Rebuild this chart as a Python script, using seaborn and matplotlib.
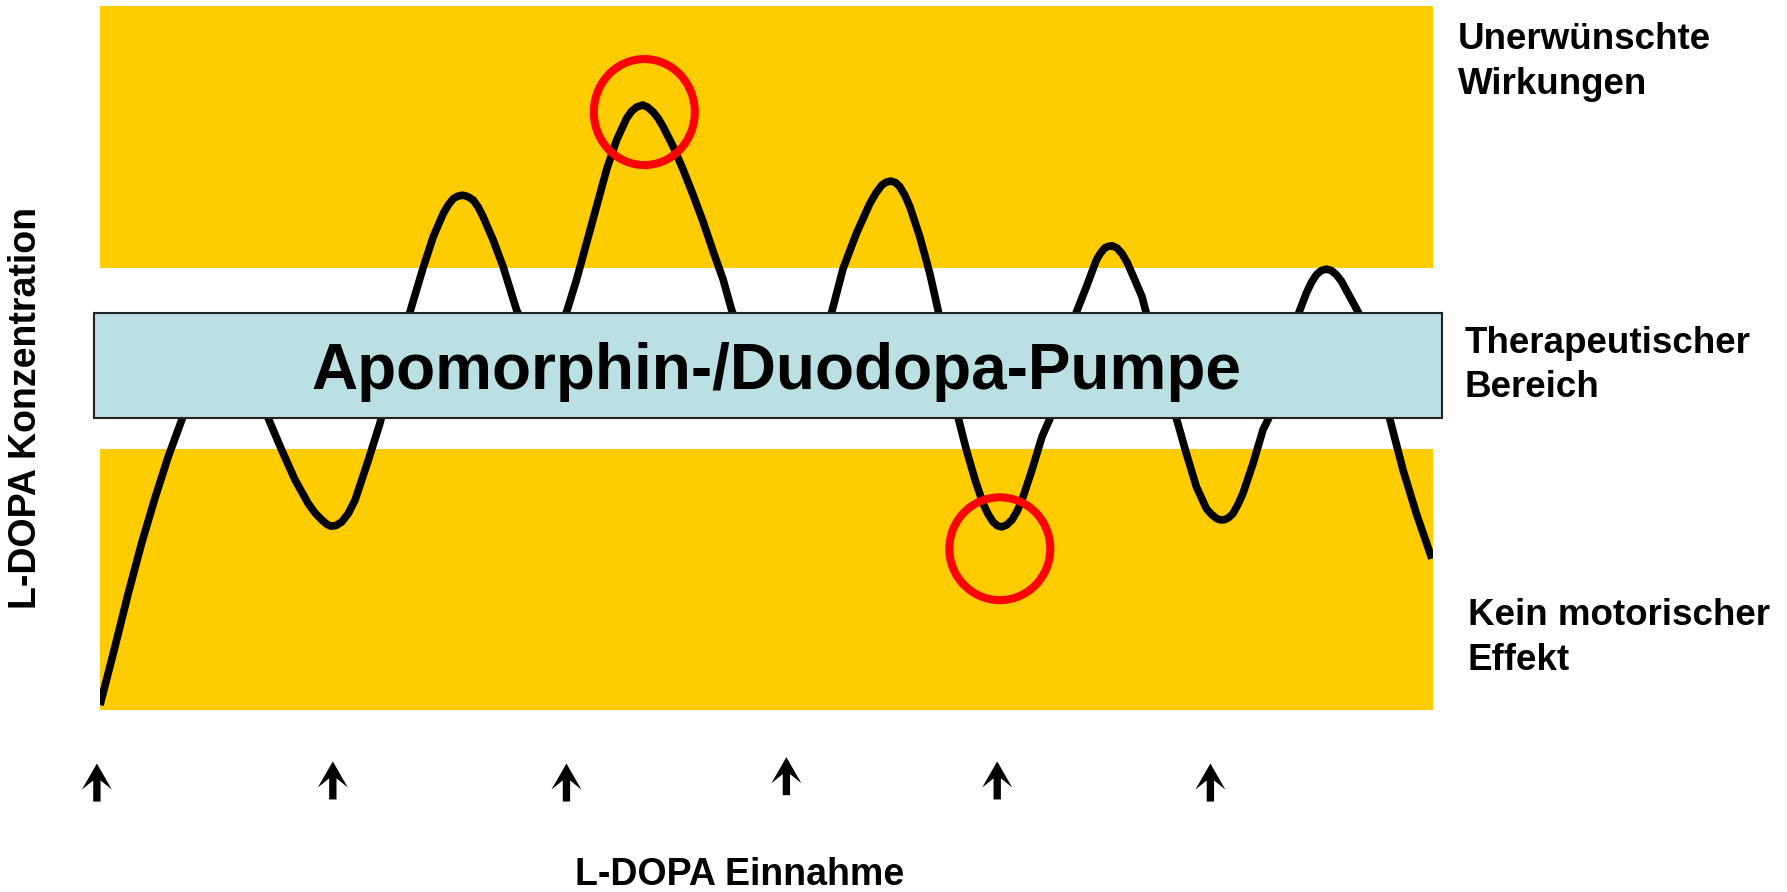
import matplotlib
matplotlib.use("Agg")
import matplotlib.pyplot as plt
from matplotlib.patches import Rectangle, Ellipse
import seaborn as sns
import pandas as pd

# ---------------- data ----------------
# time axis (arbitrary units, 0..12) and L-DOPA concentration (0..100)
time = [0.00, 0.135, 0.255, 0.375, 0.495, 0.615, 0.741, 0.86, 1.00, 1.13, 1.26, 1.40,
        1.515, 1.636, 1.755, 1.875, 1.935, 1.996, 2.04, 2.077, 2.125, 2.176, 2.235, 2.296,
        2.416, 2.52, 2.65, 2.79,
        2.911, 3.00, 3.09, 3.135, 3.18, 3.22, 3.265, 3.31, 3.36, 3.405, 3.45, 3.54, 3.63,
        3.75, 3.86, 3.975, 4.09,
        4.20, 4.29, 4.38, 4.47, 4.56, 4.65, 4.74, 4.785, 4.83, 4.886, 4.93, 4.98, 5.025,
        5.07, 5.16, 5.25,
        5.34, 5.43, 5.52, 5.61, 5.686, 5.85, 6.00, 6.14, 6.28, 6.43, 6.587, 6.69, 6.81,
        6.93, 6.985, 7.037, 7.078, 7.118, 7.16, 7.20, 7.245, 7.29, 7.38, 7.47, 7.547,
        7.64, 7.727, 7.80, 7.877, 7.95, 7.995,
        8.04, 8.08, 8.117, 8.16, 8.21, 8.255, 8.30, 8.39, 8.48, 8.552, 8.67, 8.79, 8.88,
        8.97, 9.008, 9.045, 9.08, 9.113, 9.155,
        9.20, 9.245, 9.29, 9.38, 9.42, 9.555, 9.69, 9.78, 9.87, 9.96, 10.005, 10.05,
        10.085, 10.12, 10.16, 10.20, 10.245, 10.29,
        10.38, 10.47, 10.52, 10.655, 10.79, 10.86, 10.905, 10.95, 10.995, 11.04, 11.085,
        11.13, 11.175, 11.22, 11.33,
        11.47, 11.61, 11.73, 11.85, 11.99]
concentration = [0.7, 9.0, 16.6, 23.7, 30.1, 36.0, 41.4, 46.0, 49.2, 50.2, 49.2, 45.8,
                 41.4, 36.9, 32.7, 29.3, 28.0, 27.0, 26.4, 26.1, 26.2, 26.7, 27.9, 29.8,
                 35.5, 40.7, 48.5, 56.5,
                 62.9, 67.2, 70.5, 71.7, 72.6, 72.95, 73.1, 72.9, 72.4, 71.4, 70.0, 66.7, 62.9,
                 56.8, 53.0, 51.0, 53.0,
                 56.5, 61.1, 66.3, 71.5, 76.7, 80.9, 84.0, 85.0, 85.6, 85.9, 85.6, 84.9, 84.0,
                 82.8, 80.0, 76.7,
                 73.1, 69.3, 65.1, 61.1, 56.8, 50.0, 45.5, 44.0, 45.5, 50.5, 56.5, 62.7, 67.7,
                 71.9, 73.4, 74.5, 74.95, 75.1, 74.9, 74.3, 73.1, 71.5, 67.2, 62.0, 56.6,
                 49.0, 41.4, 36.9, 32.7, 29.3, 27.8,
                 26.7, 26.15, 26.0, 26.25, 27.0, 28.2, 29.8, 34.1, 38.8, 41.4, 49.0, 56.5, 60.1,
                 63.9, 64.9, 65.6, 65.85, 65.9, 65.6,
                 64.8, 63.6, 62.0, 58.7, 56.3, 49.0, 41.4, 36.4, 31.7, 28.6, 27.8, 27.2,
                 27.0, 27.0, 27.3, 27.9, 29.2, 30.8,
                 35.0, 39.8, 41.4, 49.0, 56.3, 59.2, 60.7, 61.8, 62.4, 62.6, 62.4,
                 61.8, 60.9, 59.6, 56.4,
                 49.0, 41.4, 34.1, 27.9, 21.5]

# zones (concentration limits)
zone_low = [0.0, 37.1]          # Kein motorischer Effekt
zone_high = [62.8, 100.0]       # Unerwünschte Wirkungen
pump_band = [41.4, 56.4]        # Apomorphin-/Duodopa-Pumpe box
pump_x = [-0.05, 12.08]

# dose times (L-DOPA Einnahme) with arrow base/tip levels
dose_times = [-0.028, 2.096, 4.199, 6.179, 8.077, 9.996]
dose_base = [-13.0, -12.7, -13.0, -12.1, -12.7, -13.0]
dose_tip = [-7.6, -7.3, -7.6, -6.7, -7.3, -7.6]

# highlighted extremes (red circles)
circle_t = [4.90, 8.10]
circle_c = [84.9, 22.9]
circle_w = [0.909, 0.909]
circle_h = [15.05, 14.6]

ytick_vals = [5.68, 15.91, 26.13, 36.35, 67.02, 77.24, 87.46, 97.69]

pump_label = "Apomorphin-/Duodopa-Pumpe"
right_labels = ["Unerwünschte", "Wirkungen", "Therapeutischer", "Bereich",
                "Kein motorischer", "Effekt"]
right_label_x = [12.225, 12.225, 12.288, 12.288, 12.315, 12.315]
right_label_y = [93.85, 87.46, 50.66, 44.47, 12.1, 5.72]
ylabel = "L-DOPA Konzentration"
xlabel = "L-DOPA Einnahme"

# ---------------- style ----------------
sns.set_style("white")
plt.rcParams['font.family'] = ['Liberation Sans', 'DejaVu Sans']
plt.rcParams['font.weight'] = 'bold'

YELLOW = "#FFCC00"
BLUE = "#BAE0E3"

fig = plt.figure(figsize=(17.87, 8.92), dpi=100)
ax = fig.add_axes([100 / 1787, 182 / 892, 1333 / 1787, 704.3 / 892])
ax.set_xlim(0, 12)
ax.set_ylim(0, 100)

ax.axhspan(zone_low[0], zone_low[1], color=YELLOW, lw=0, zorder=1)
ax.axhspan(zone_high[0], zone_high[1], color=YELLOW, lw=0, zorder=1)

df = pd.DataFrame({"t": time, "c": concentration})
sns.lineplot(data=df, x="t", y="c", ax=ax, color="black", lw=5.5, sort=False,
             estimator=None, zorder=3, solid_capstyle="butt", solid_joinstyle="round")

ax.add_patch(Rectangle((pump_x[0], pump_band[0]), pump_x[1] - pump_x[0],
                       pump_band[1] - pump_band[0], facecolor=BLUE,
                       edgecolor="#222222", lw=1.5, zorder=4, clip_on=False))
ax.text((pump_x[0] + pump_x[1]) / 2 + 0.07, 45.6, pump_label, ha="center", va="baseline",
        fontsize=46, fontweight="bold", color="black", zorder=5)

for t, c, w, h in zip(circle_t, circle_c, circle_w, circle_h):
    ax.add_patch(Ellipse((t, c), w, h, facecolor="none", edgecolor="#FF0000",
                         lw=5.8, zorder=6, clip_on=False))

for t, b, tip in zip(dose_times, dose_base, dose_tip):
    ax.arrow(t, b, 0, tip - b, width=0.066, head_width=0.27, head_length=3.7,
             overhang=0.35, length_includes_head=True, color="black", lw=0,
             clip_on=False, zorder=5)

for s, x, y in zip(right_labels, right_label_x, right_label_y):
    ax.text(x, y, s, ha="left", va="baseline", fontsize=26.5, fontweight="bold",
            color="black", clip_on=False)

ax.text(-0.666, 42.9, ylabel, rotation=90, ha="center", va="center", fontsize=27,
        fontweight="bold", color="black", clip_on=False)
ax.text(5.76, -24.85, xlabel, ha="center", va="baseline", fontsize=27,
        fontweight="bold", color="black", clip_on=False)

ax.set_xlabel("")
ax.set_ylabel("")
ax.set_xticks([])
ax.set_yticks(ytick_vals)
ax.set_yticklabels([])
ax.tick_params(axis="y", direction="in", length=7.2, width=4.5, color="white", left=True)
for sp in ax.spines.values():
    sp.set_visible(False)

fig.savefig("out.png", dpi=100)
